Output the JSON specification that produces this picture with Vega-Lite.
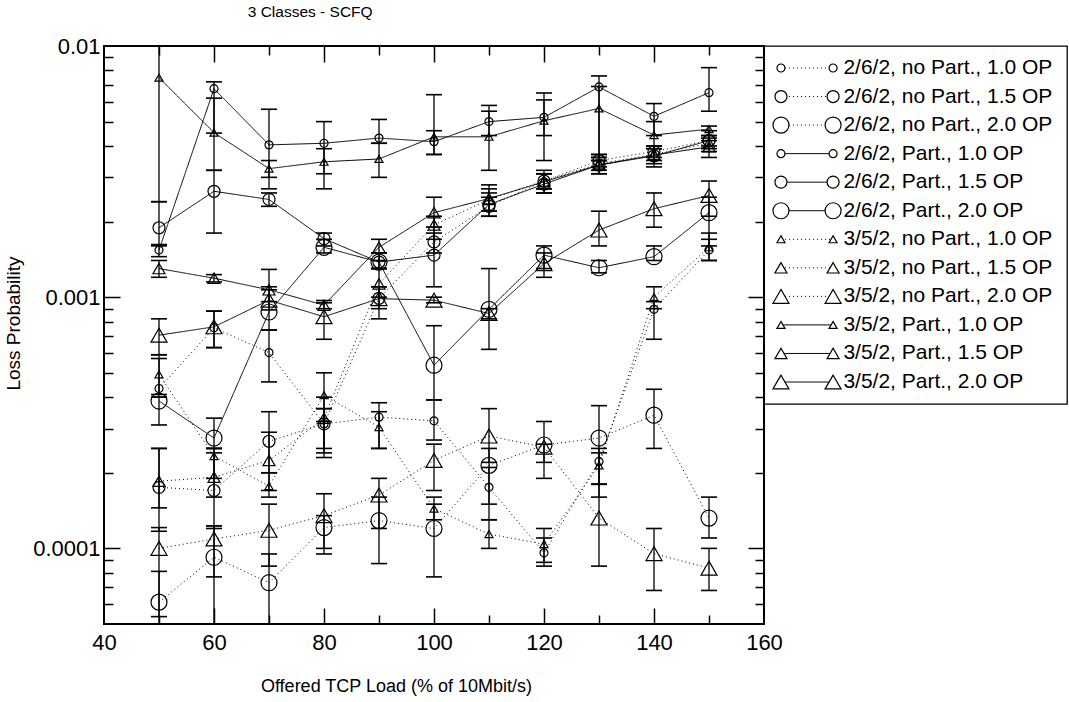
{
  "$schema": "https://vega.github.io/schema/vega-lite/v6.json",
  "background": "white",
  "padding": {"left": 3, "top": 4, "right": 0, "bottom": 0},
  "bounds": "flush",
  "config": {"font": "Liberation Sans", "view": {"stroke": "black"}},
  "title": {"text": "3 Classes - SCFQ", "anchor": "start", "dx": 244, "fontSize": 15.5, "fontWeight": "normal", "color": "black", "offset": 14},
  "spacing": 0,
  "resolve": {"scale": {"size": "independent", "shape": "independent", "strokeDash": "independent"}},
  "datasets": {
    "leg": [
      {"s": "2/6/2, no Part., 1.0 OP"}, {"s": "2/6/2, no Part., 1.5 OP"}, {"s": "2/6/2, no Part., 2.0 OP"},
      {"s": "2/6/2, Part., 1.0 OP"}, {"s": "2/6/2, Part., 1.5 OP"}, {"s": "2/6/2, Part., 2.0 OP"},
      {"s": "3/5/2, no Part., 1.0 OP"}, {"s": "3/5/2, no Part., 1.5 OP"}, {"s": "3/5/2, no Part., 2.0 OP"},
      {"s": "3/5/2, Part., 1.0 OP"}, {"s": "3/5/2, Part., 1.5 OP"}, {"s": "3/5/2, Part., 2.0 OP"}
    ],
    "pts": [
      {"s": "2/6/2, no Part., 1.0 OP", "x": 50, "y": 0.000433, "lo": 0.0004, "hi": 0.00057},
      {"s": "2/6/2, no Part., 1.0 OP", "x": 60, "y": 0.000755, "lo": 0.00063, "hi": 0.00088},
      {"s": "2/6/2, no Part., 1.0 OP", "x": 70, "y": 0.000602, "lo": 0.00046, "hi": 0.00074},
      {"s": "2/6/2, no Part., 1.0 OP", "x": 80, "y": 0.000313, "lo": 0.00023, "hi": 0.0004},
      {"s": "2/6/2, no Part., 1.0 OP", "x": 90, "y": 0.000333, "lo": 0.00025, "hi": 0.00038},
      {"s": "2/6/2, no Part., 1.0 OP", "x": 100, "y": 0.000322, "lo": 0.00027, "hi": 0.00039},
      {"s": "2/6/2, no Part., 1.0 OP", "x": 110, "y": 0.000175, "lo": 0.00013, "hi": 0.00021},
      {"s": "2/6/2, no Part., 1.0 OP", "x": 120, "y": 0.000096, "lo": 0.000085, "hi": 0.00011},
      {"s": "2/6/2, no Part., 1.0 OP", "x": 130, "y": 0.000222, "lo": 0.00018, "hi": 0.00025},
      {"s": "2/6/2, no Part., 1.0 OP", "x": 140, "y": 0.000895, "lo": 0.00068, "hi": 0.00096},
      {"s": "2/6/2, no Part., 1.0 OP", "x": 150, "y": 0.00154, "lo": 0.0014, "hi": 0.0017},

      {"s": "2/6/2, no Part., 1.5 OP", "x": 50, "y": 0.000175, "lo": 0.000117, "hi": 0.00025},
      {"s": "2/6/2, no Part., 1.5 OP", "x": 60, "y": 0.00017, "lo": 0.00012, "hi": 0.00024},
      {"s": "2/6/2, no Part., 1.5 OP", "x": 70, "y": 0.000267, "lo": 0.0002, "hi": 0.00035},
      {"s": "2/6/2, no Part., 1.5 OP", "x": 80, "y": 0.000313, "lo": 0.00025, "hi": 0.00036},
      {"s": "2/6/2, no Part., 1.5 OP", "x": 90, "y": 0.00099, "lo": 0.0009, "hi": 0.0011},
      {"s": "2/6/2, no Part., 1.5 OP", "x": 100, "y": 0.00166, "lo": 0.0015, "hi": 0.0019},
      {"s": "2/6/2, no Part., 1.5 OP", "x": 110, "y": 0.0023, "lo": 0.0021, "hi": 0.0025},
      {"s": "2/6/2, no Part., 1.5 OP", "x": 120, "y": 0.0029, "lo": 0.0027, "hi": 0.0031},
      {"s": "2/6/2, no Part., 1.5 OP", "x": 130, "y": 0.0035, "lo": 0.0033, "hi": 0.0037},
      {"s": "2/6/2, no Part., 1.5 OP", "x": 140, "y": 0.0038, "lo": 0.0036, "hi": 0.004},
      {"s": "2/6/2, no Part., 1.5 OP", "x": 150, "y": 0.0042, "lo": 0.004, "hi": 0.0044},

      {"s": "2/6/2, no Part., 2.0 OP", "x": 50, "y": 0.0000611, "lo": 0.00004, "hi": 0.000081},
      {"s": "2/6/2, no Part., 2.0 OP", "x": 60, "y": 0.0000922, "lo": 0.00004, "hi": 0.000123},
      {"s": "2/6/2, no Part., 2.0 OP", "x": 70, "y": 0.000073, "lo": 0.00004, "hi": 0.000095},
      {"s": "2/6/2, no Part., 2.0 OP", "x": 80, "y": 0.000121, "lo": 0.000095, "hi": 0.000135},
      {"s": "2/6/2, no Part., 2.0 OP", "x": 90, "y": 0.000129, "lo": 0.000087, "hi": 0.00016},
      {"s": "2/6/2, no Part., 2.0 OP", "x": 100, "y": 0.00012, "lo": 0.000077, "hi": 0.00015},
      {"s": "2/6/2, no Part., 2.0 OP", "x": 110, "y": 0.000214, "lo": 0.00015, "hi": 0.00025},
      {"s": "2/6/2, no Part., 2.0 OP", "x": 120, "y": 0.000258, "lo": 0.00019, "hi": 0.00032},
      {"s": "2/6/2, no Part., 2.0 OP", "x": 130, "y": 0.000275, "lo": 0.00016, "hi": 0.00037},
      {"s": "2/6/2, no Part., 2.0 OP", "x": 140, "y": 0.000339, "lo": 0.00025, "hi": 0.00043},
      {"s": "2/6/2, no Part., 2.0 OP", "x": 150, "y": 0.000132, "lo": 0.00011, "hi": 0.00016},

      {"s": "2/6/2, Part., 1.0 OP", "x": 50, "y": 0.00154, "lo": 0.00145, "hi": 0.00162},
      {"s": "2/6/2, Part., 1.0 OP", "x": 60, "y": 0.00676, "lo": 0.0045, "hi": 0.0072},
      {"s": "2/6/2, Part., 1.0 OP", "x": 70, "y": 0.00404, "lo": 0.0027, "hi": 0.0056},
      {"s": "2/6/2, Part., 1.0 OP", "x": 80, "y": 0.0041, "lo": 0.0027, "hi": 0.005},
      {"s": "2/6/2, Part., 1.0 OP", "x": 90, "y": 0.0043, "lo": 0.0041, "hi": 0.0051},
      {"s": "2/6/2, Part., 1.0 OP", "x": 100, "y": 0.00416, "lo": 0.0037, "hi": 0.0064},
      {"s": "2/6/2, Part., 1.0 OP", "x": 110, "y": 0.005, "lo": 0.0044, "hi": 0.0058},
      {"s": "2/6/2, Part., 1.0 OP", "x": 120, "y": 0.0052, "lo": 0.0035, "hi": 0.0065},
      {"s": "2/6/2, Part., 1.0 OP", "x": 130, "y": 0.00687, "lo": 0.0035, "hi": 0.0076},
      {"s": "2/6/2, Part., 1.0 OP", "x": 140, "y": 0.00525, "lo": 0.0044, "hi": 0.0059},
      {"s": "2/6/2, Part., 1.0 OP", "x": 150, "y": 0.00652, "lo": 0.0055, "hi": 0.0082},

      {"s": "2/6/2, Part., 1.5 OP", "x": 50, "y": 0.00189, "lo": 0.0016, "hi": 0.0024},
      {"s": "2/6/2, Part., 1.5 OP", "x": 60, "y": 0.00264, "lo": 0.0018, "hi": 0.0032},
      {"s": "2/6/2, Part., 1.5 OP", "x": 70, "y": 0.00245, "lo": 0.0023, "hi": 0.0026},
      {"s": "2/6/2, Part., 1.5 OP", "x": 80, "y": 0.00171, "lo": 0.0016, "hi": 0.0018},
      {"s": "2/6/2, Part., 1.5 OP", "x": 90, "y": 0.00138, "lo": 0.0013, "hi": 0.0015},
      {"s": "2/6/2, Part., 1.5 OP", "x": 100, "y": 0.00147, "lo": 0.0011, "hi": 0.0018},
      {"s": "2/6/2, Part., 1.5 OP", "x": 110, "y": 0.00234, "lo": 0.0021, "hi": 0.0026},
      {"s": "2/6/2, Part., 1.5 OP", "x": 120, "y": 0.00282, "lo": 0.0026, "hi": 0.0031},
      {"s": "2/6/2, Part., 1.5 OP", "x": 130, "y": 0.00336, "lo": 0.0031, "hi": 0.0037},
      {"s": "2/6/2, Part., 1.5 OP", "x": 140, "y": 0.00365, "lo": 0.0033, "hi": 0.004},
      {"s": "2/6/2, Part., 1.5 OP", "x": 150, "y": 0.0042, "lo": 0.0038, "hi": 0.0046},

      {"s": "2/6/2, Part., 2.0 OP", "x": 50, "y": 0.000386, "lo": 0.00031, "hi": 0.0004},
      {"s": "2/6/2, Part., 2.0 OP", "x": 60, "y": 0.000275, "lo": 0.00025, "hi": 0.00033},
      {"s": "2/6/2, Part., 2.0 OP", "x": 70, "y": 0.000873, "lo": 0.00074, "hi": 0.00107},
      {"s": "2/6/2, Part., 2.0 OP", "x": 80, "y": 0.00158, "lo": 0.0015, "hi": 0.0017},
      {"s": "2/6/2, Part., 2.0 OP", "x": 90, "y": 0.00138, "lo": 0.0013, "hi": 0.0015},
      {"s": "2/6/2, Part., 2.0 OP", "x": 100, "y": 0.000536, "lo": 0.00039, "hi": 0.00077},
      {"s": "2/6/2, Part., 2.0 OP", "x": 110, "y": 0.000895, "lo": 0.00062, "hi": 0.0013},
      {"s": "2/6/2, Part., 2.0 OP", "x": 120, "y": 0.00147, "lo": 0.0013, "hi": 0.0016},
      {"s": "2/6/2, Part., 2.0 OP", "x": 130, "y": 0.00131, "lo": 0.00125, "hi": 0.0014},
      {"s": "2/6/2, Part., 2.0 OP", "x": 140, "y": 0.00145, "lo": 0.0014, "hi": 0.0016},
      {"s": "2/6/2, Part., 2.0 OP", "x": 150, "y": 0.00217, "lo": 0.0016, "hi": 0.0025},

      {"s": "3/5/2, no Part., 1.0 OP", "x": 50, "y": 0.000493, "lo": 0.00041, "hi": 0.00059},
      {"s": "3/5/2, no Part., 1.0 OP", "x": 60, "y": 0.000233, "lo": 0.00019, "hi": 0.00025},
      {"s": "3/5/2, no Part., 1.0 OP", "x": 70, "y": 0.000177, "lo": 0.00016, "hi": 0.0002},
      {"s": "3/5/2, no Part., 1.0 OP", "x": 80, "y": 0.000407, "lo": 0.00032, "hi": 0.0005},
      {"s": "3/5/2, no Part., 1.0 OP", "x": 90, "y": 0.000304, "lo": 0.00025, "hi": 0.00035},
      {"s": "3/5/2, no Part., 1.0 OP", "x": 100, "y": 0.000144, "lo": 0.00013, "hi": 0.00016},
      {"s": "3/5/2, no Part., 1.0 OP", "x": 110, "y": 0.000114, "lo": 0.0001, "hi": 0.00013},
      {"s": "3/5/2, no Part., 1.0 OP", "x": 120, "y": 0.000104, "lo": 0.000088, "hi": 0.00012},
      {"s": "3/5/2, no Part., 1.0 OP", "x": 130, "y": 0.000214, "lo": 0.00018, "hi": 0.00024},
      {"s": "3/5/2, no Part., 1.0 OP", "x": 140, "y": 0.001, "lo": 0.0009, "hi": 0.0011},
      {"s": "3/5/2, no Part., 1.0 OP", "x": 150, "y": 0.00158, "lo": 0.0014, "hi": 0.0018},

      {"s": "3/5/2, no Part., 1.5 OP", "x": 50, "y": 0.000185, "lo": 0.000145, "hi": 0.00025},
      {"s": "3/5/2, no Part., 1.5 OP", "x": 60, "y": 0.000192, "lo": 0.00016, "hi": 0.00025},
      {"s": "3/5/2, no Part., 1.5 OP", "x": 70, "y": 0.000224, "lo": 0.00017, "hi": 0.00029},
      {"s": "3/5/2, no Part., 1.5 OP", "x": 80, "y": 0.00033, "lo": 0.00024, "hi": 0.00036},
      {"s": "3/5/2, no Part., 1.5 OP", "x": 90, "y": 0.00113, "lo": 0.001, "hi": 0.0013},
      {"s": "3/5/2, no Part., 1.5 OP", "x": 100, "y": 0.00194, "lo": 0.0017, "hi": 0.0021},
      {"s": "3/5/2, no Part., 1.5 OP", "x": 110, "y": 0.00245, "lo": 0.0022, "hi": 0.0027},
      {"s": "3/5/2, no Part., 1.5 OP", "x": 120, "y": 0.0029, "lo": 0.0027, "hi": 0.0031},
      {"s": "3/5/2, no Part., 1.5 OP", "x": 130, "y": 0.0034, "lo": 0.0032, "hi": 0.0036},
      {"s": "3/5/2, no Part., 1.5 OP", "x": 140, "y": 0.0037, "lo": 0.0035, "hi": 0.0039},
      {"s": "3/5/2, no Part., 1.5 OP", "x": 150, "y": 0.0041, "lo": 0.0039, "hi": 0.0043},

      {"s": "3/5/2, no Part., 2.0 OP", "x": 50, "y": 0.0001, "lo": 0.0000535, "hi": 0.000121},
      {"s": "3/5/2, no Part., 2.0 OP", "x": 60, "y": 0.000109, "lo": 0.000077, "hi": 0.000123},
      {"s": "3/5/2, no Part., 2.0 OP", "x": 70, "y": 0.000118, "lo": 0.000085, "hi": 0.00015},
      {"s": "3/5/2, no Part., 2.0 OP", "x": 80, "y": 0.000135, "lo": 0.0001, "hi": 0.000165},
      {"s": "3/5/2, no Part., 2.0 OP", "x": 90, "y": 0.000163, "lo": 0.00012, "hi": 0.00019},
      {"s": "3/5/2, no Part., 2.0 OP", "x": 100, "y": 0.000224, "lo": 0.00017, "hi": 0.00026},
      {"s": "3/5/2, no Part., 2.0 OP", "x": 110, "y": 0.00028, "lo": 0.00022, "hi": 0.00036},
      {"s": "3/5/2, no Part., 2.0 OP", "x": 120, "y": 0.000253, "lo": 0.00022, "hi": 0.00026},
      {"s": "3/5/2, no Part., 2.0 OP", "x": 130, "y": 0.000132, "lo": 0.000085, "hi": 0.00018},
      {"s": "3/5/2, no Part., 2.0 OP", "x": 140, "y": 0.0000953, "lo": 0.000068, "hi": 0.00012},
      {"s": "3/5/2, no Part., 2.0 OP", "x": 150, "y": 0.0000834, "lo": 0.000068, "hi": 0.0001},

      {"s": "3/5/2, Part., 1.0 OP", "x": 50, "y": 0.00748, "lo": 0.0024, "hi": 0.012},
      {"s": "3/5/2, Part., 1.0 OP", "x": 60, "y": 0.00452, "lo": 0.0032, "hi": 0.0062},
      {"s": "3/5/2, Part., 1.0 OP", "x": 70, "y": 0.00325, "lo": 0.003, "hi": 0.0035},
      {"s": "3/5/2, Part., 1.0 OP", "x": 80, "y": 0.00346, "lo": 0.0031, "hi": 0.0039},
      {"s": "3/5/2, Part., 1.0 OP", "x": 90, "y": 0.00355, "lo": 0.003, "hi": 0.0041},
      {"s": "3/5/2, Part., 1.0 OP", "x": 100, "y": 0.00435, "lo": 0.0037, "hi": 0.0046},
      {"s": "3/5/2, Part., 1.0 OP", "x": 110, "y": 0.00435, "lo": 0.0032, "hi": 0.0055},
      {"s": "3/5/2, Part., 1.0 OP", "x": 120, "y": 0.00504, "lo": 0.0044, "hi": 0.0061},
      {"s": "3/5/2, Part., 1.0 OP", "x": 130, "y": 0.00564, "lo": 0.0035, "hi": 0.0069},
      {"s": "3/5/2, Part., 1.0 OP", "x": 140, "y": 0.00442, "lo": 0.0039, "hi": 0.005},
      {"s": "3/5/2, Part., 1.0 OP", "x": 150, "y": 0.00467, "lo": 0.0042, "hi": 0.0048},

      {"s": "3/5/2, Part., 1.5 OP", "x": 50, "y": 0.0013, "lo": 0.0012, "hi": 0.0014},
      {"s": "3/5/2, Part., 1.5 OP", "x": 60, "y": 0.00119, "lo": 0.00115, "hi": 0.00123},
      {"s": "3/5/2, Part., 1.5 OP", "x": 70, "y": 0.00107, "lo": 0.00096, "hi": 0.00129},
      {"s": "3/5/2, Part., 1.5 OP", "x": 80, "y": 0.00093, "lo": 0.0009, "hi": 0.00097},
      {"s": "3/5/2, Part., 1.5 OP", "x": 90, "y": 0.00158, "lo": 0.0014, "hi": 0.0017},
      {"s": "3/5/2, Part., 1.5 OP", "x": 100, "y": 0.00217, "lo": 0.0019, "hi": 0.0025},
      {"s": "3/5/2, Part., 1.5 OP", "x": 110, "y": 0.00247, "lo": 0.0022, "hi": 0.0028},
      {"s": "3/5/2, Part., 1.5 OP", "x": 120, "y": 0.00288, "lo": 0.0026, "hi": 0.0032},
      {"s": "3/5/2, Part., 1.5 OP", "x": 130, "y": 0.00336, "lo": 0.0031, "hi": 0.0036},
      {"s": "3/5/2, Part., 1.5 OP", "x": 140, "y": 0.00368, "lo": 0.0034, "hi": 0.004},
      {"s": "3/5/2, Part., 1.5 OP", "x": 150, "y": 0.00397, "lo": 0.0036, "hi": 0.0044},

      {"s": "3/5/2, Part., 2.0 OP", "x": 50, "y": 0.000706, "lo": 0.00059, "hi": 0.00082},
      {"s": "3/5/2, Part., 2.0 OP", "x": 60, "y": 0.000762, "lo": 0.00063, "hi": 0.00088},
      {"s": "3/5/2, Part., 2.0 OP", "x": 70, "y": 0.000973, "lo": 0.00089, "hi": 0.0011},
      {"s": "3/5/2, Part., 2.0 OP", "x": 80, "y": 0.000836, "lo": 0.00068, "hi": 0.00095},
      {"s": "3/5/2, Part., 2.0 OP", "x": 90, "y": 0.000987, "lo": 0.00082, "hi": 0.0011},
      {"s": "3/5/2, Part., 2.0 OP", "x": 100, "y": 0.000973, "lo": 0.00095, "hi": 0.001},
      {"s": "3/5/2, Part., 2.0 OP", "x": 110, "y": 0.000861, "lo": 0.00082, "hi": 0.0009},
      {"s": "3/5/2, Part., 2.0 OP", "x": 120, "y": 0.00136, "lo": 0.0012, "hi": 0.0015},
      {"s": "3/5/2, Part., 2.0 OP", "x": 130, "y": 0.00185, "lo": 0.0016, "hi": 0.0022},
      {"s": "3/5/2, Part., 2.0 OP", "x": 140, "y": 0.00225, "lo": 0.0019, "hi": 0.0026},
      {"s": "3/5/2, Part., 2.0 OP", "x": 150, "y": 0.00254, "lo": 0.0021, "hi": 0.0029}
    ]
  },
  "hconcat": [
    {
      "width": 660,
      "height": 578,
      "data": {"name": "pts"},
      "view": {"stroke": "black", "strokeWidth": 2},
      "resolve": {"axis": {"x": "independent", "y": "independent"}},
      "layer": [
        {
          "mark": {"type": "line", "color": "black", "strokeWidth": 1, "clip": true},
          "encoding": {
            "x": {"field": "x", "type": "quantitative", "scale": {"domain": [40, 160], "nice": false, "zero": false},
              "axis": {"orient": "bottom", "values": [40, 60, 80, 100, 120, 140, 160], "ticks": false, "tickSize": 0, "domain": false, "grid": false,
                "labelFontSize": 22, "labelPadding": 8, "labelColor": "black", "labelFlush": false,
                "title": "Offered TCP Load (% of 10Mbit/s)", "titleFontSize": 18, "titleFontWeight": "normal", "titleColor": "black", "titlePadding": 24, "titleX": 292}},
            "y": {"field": "y", "type": "quantitative", "scale": {"type": "log", "domain": [0.00005, 0.01], "nice": false},
              "axis": {"orient": "left", "values": [0.0001, 0.001, 0.01], "ticks": false, "tickSize": 0, "domain": false, "grid": false, "format": "~g",
                "labelFontSize": 22, "labelPadding": 4, "labelColor": "black", "labelFlush": false,
                "title": "Loss Probability", "titleFontSize": 19, "titleFontWeight": "normal", "titleColor": "black", "titlePadding": 9, "titleY": 277}},
            "detail": {"field": "s"},
            "strokeDash": {"field": "s", "type": "nominal", "legend": null,
              "scale": {"domain": ["2/6/2, no Part., 1.0 OP", "2/6/2, no Part., 1.5 OP", "2/6/2, no Part., 2.0 OP", "2/6/2, Part., 1.0 OP", "2/6/2, Part., 1.5 OP", "2/6/2, Part., 2.0 OP", "3/5/2, no Part., 1.0 OP", "3/5/2, no Part., 1.5 OP", "3/5/2, no Part., 2.0 OP", "3/5/2, Part., 1.0 OP", "3/5/2, Part., 1.5 OP", "3/5/2, Part., 2.0 OP"],
                "range": [[1, 3], [1, 3], [1, 3], [1, 0], [1, 0], [1, 0], [1, 3], [1, 3], [1, 3], [1, 0], [1, 0], [1, 0]]}}
          }
        },
        {
          "mark": {"type": "rule", "color": "black", "strokeWidth": 1.3, "clip": true},
          "encoding": {
            "x": {"field": "x", "type": "quantitative",
              "axis": {"orient": "bottom", "values": [60, 80, 100, 120, 140], "labels": false, "tickSize": -16, "tickWidth": 1.5, "tickColor": "black", "domain": false, "grid": false, "title": null}},
            "y": {"field": "lo", "type": "quantitative",
              "axis": {"orient": "left", "values": [0.0001, 0.001], "labels": false, "tickSize": -16, "tickWidth": 1.5, "tickColor": "black", "domain": false, "grid": false, "title": null}},
            "y2": {"field": "hi"}
          }
        },
        {
          "transform": [{"fold": ["lo", "hi"], "as": ["k", "v"]}],
          "mark": {"type": "tick", "orient": "horizontal", "color": "black", "size": 16, "thickness": 1.6, "opacity": 1, "clip": true},
          "encoding": {
            "x": {"field": "x", "type": "quantitative",
              "axis": {"orient": "bottom", "values": [50, 70, 90, 110, 130, 150], "labels": false, "tickSize": -9, "tickWidth": 1.5, "tickColor": "black", "domain": false, "grid": false, "title": null}},
            "y": {"field": "v", "type": "quantitative",
              "axis": {"orient": "left", "values": [0.00006, 0.00007, 0.00008, 0.00009, 0.0002, 0.0003, 0.0004, 0.0005, 0.0006, 0.0007, 0.0008, 0.0009, 0.002, 0.003, 0.004, 0.005, 0.006, 0.007, 0.008, 0.009], "labels": false, "tickSize": -9, "tickWidth": 1.5, "tickColor": "black", "domain": false, "grid": false, "title": null}}
          }
        },
        {
          "mark": {"type": "point", "filled": false, "color": "black", "strokeWidth": 1.2, "opacity": 1, "clip": true},
          "encoding": {
            "x": {"field": "x", "type": "quantitative",
              "axis": {"orient": "top", "values": [60, 80, 100, 120, 140], "labels": false, "tickSize": -16, "tickWidth": 1.5, "tickColor": "black", "domain": false, "grid": false, "title": null}},
            "y": {"field": "y", "type": "quantitative",
              "axis": {"orient": "right", "values": [0.0001, 0.001], "labels": false, "tickSize": -16, "tickWidth": 1.5, "tickColor": "black", "domain": false, "grid": false, "title": null}},
            "shape": {"field": "s", "type": "nominal", "legend": null,
              "scale": {"domain": ["2/6/2, no Part., 1.0 OP", "2/6/2, no Part., 1.5 OP", "2/6/2, no Part., 2.0 OP", "2/6/2, Part., 1.0 OP", "2/6/2, Part., 1.5 OP", "2/6/2, Part., 2.0 OP", "3/5/2, no Part., 1.0 OP", "3/5/2, no Part., 1.5 OP", "3/5/2, no Part., 2.0 OP", "3/5/2, Part., 1.0 OP", "3/5/2, Part., 1.5 OP", "3/5/2, Part., 2.0 OP"],
                "range": ["circle", "circle", "circle", "circle", "circle", "circle", "triangle-up", "triangle-up", "triangle-up", "triangle-up", "triangle-up", "triangle-up"]}},
            "size": {"field": "s", "type": "ordinal", "legend": null,
              "scale": {"type": "ordinal", "domain": ["2/6/2, no Part., 1.0 OP", "2/6/2, no Part., 1.5 OP", "2/6/2, no Part., 2.0 OP", "2/6/2, Part., 1.0 OP", "2/6/2, Part., 1.5 OP", "2/6/2, Part., 2.0 OP", "3/5/2, no Part., 1.0 OP", "3/5/2, no Part., 1.5 OP", "3/5/2, no Part., 2.0 OP", "3/5/2, Part., 1.0 OP", "3/5/2, Part., 1.5 OP", "3/5/2, Part., 2.0 OP"],
                "range": [64, 144, 256, 64, 144, 256, 64, 144, 256, 64, 144, 256]}}
          }
        },
        {
          "mark": {"type": "point", "opacity": 0},
          "encoding": {
            "x": {"field": "x", "type": "quantitative",
              "axis": {"orient": "top", "values": [50, 70, 90, 110, 130, 150], "labels": false, "tickSize": -9, "tickWidth": 1.5, "tickColor": "black", "domain": false, "grid": false, "title": null}},
            "y": {"field": "y", "type": "quantitative",
              "axis": {"orient": "right", "values": [0.00006, 0.00007, 0.00008, 0.00009, 0.0002, 0.0003, 0.0004, 0.0005, 0.0006, 0.0007, 0.0008, 0.0009, 0.002, 0.003, 0.004, 0.005, 0.006, 0.007, 0.008, 0.009], "labels": false, "tickSize": -9, "tickWidth": 1.5, "tickColor": "black", "domain": false, "grid": false, "title": null}}
          }
        }
      ]
    },
    {
      "width": 303,
      "height": 358,
      "data": {"name": "leg"},
      "view": {"stroke": "black", "strokeWidth": 1.3},
      "encoding": {
        "y": {"field": "s", "type": "nominal", "axis": null,
          "scale": {"type": "point", "padding": 0.77, "domain": ["2/6/2, no Part., 1.0 OP", "2/6/2, no Part., 1.5 OP", "2/6/2, no Part., 2.0 OP", "2/6/2, Part., 1.0 OP", "2/6/2, Part., 1.5 OP", "2/6/2, Part., 2.0 OP", "3/5/2, no Part., 1.0 OP", "3/5/2, no Part., 1.5 OP", "3/5/2, no Part., 2.0 OP", "3/5/2, Part., 1.0 OP", "3/5/2, Part., 1.5 OP", "3/5/2, Part., 2.0 OP"]}}
      },
      "layer": [
        {
          "mark": {"type": "rule", "color": "black", "strokeWidth": 1},
          "encoding": {
            "x": {"datum": 0.056, "type": "quantitative", "scale": {"domain": [0, 1], "nice": false}, "axis": null},
            "x2": {"datum": 0.228},
            "strokeDash": {"field": "s", "type": "nominal", "legend": null,
              "scale": {"domain": ["2/6/2, no Part., 1.0 OP", "2/6/2, no Part., 1.5 OP", "2/6/2, no Part., 2.0 OP", "2/6/2, Part., 1.0 OP", "2/6/2, Part., 1.5 OP", "2/6/2, Part., 2.0 OP", "3/5/2, no Part., 1.0 OP", "3/5/2, no Part., 1.5 OP", "3/5/2, no Part., 2.0 OP", "3/5/2, Part., 1.0 OP", "3/5/2, Part., 1.5 OP", "3/5/2, Part., 2.0 OP"],
                "range": [[1, 3], [1, 3], [1, 3], [1, 0], [1, 0], [1, 0], [1, 3], [1, 3], [1, 3], [1, 0], [1, 0], [1, 0]]}}
          }
        },
        {
          "mark": {"type": "point", "filled": false, "fill": "white", "color": "black", "strokeWidth": 1.2, "opacity": 1},
          "encoding": {
            "x": {"datum": 0.056, "type": "quantitative"},
            "shape": {"field": "s", "type": "nominal", "legend": null,
              "scale": {"domain": ["2/6/2, no Part., 1.0 OP", "2/6/2, no Part., 1.5 OP", "2/6/2, no Part., 2.0 OP", "2/6/2, Part., 1.0 OP", "2/6/2, Part., 1.5 OP", "2/6/2, Part., 2.0 OP", "3/5/2, no Part., 1.0 OP", "3/5/2, no Part., 1.5 OP", "3/5/2, no Part., 2.0 OP", "3/5/2, Part., 1.0 OP", "3/5/2, Part., 1.5 OP", "3/5/2, Part., 2.0 OP"],
                "range": ["circle", "circle", "circle", "circle", "circle", "circle", "triangle-up", "triangle-up", "triangle-up", "triangle-up", "triangle-up", "triangle-up"]}},
            "size": {"field": "s", "type": "ordinal", "legend": null,
              "scale": {"type": "ordinal", "domain": ["2/6/2, no Part., 1.0 OP", "2/6/2, no Part., 1.5 OP", "2/6/2, no Part., 2.0 OP", "2/6/2, Part., 1.0 OP", "2/6/2, Part., 1.5 OP", "2/6/2, Part., 2.0 OP", "3/5/2, no Part., 1.0 OP", "3/5/2, no Part., 1.5 OP", "3/5/2, no Part., 2.0 OP", "3/5/2, Part., 1.0 OP", "3/5/2, Part., 1.5 OP", "3/5/2, Part., 2.0 OP"],
                "range": [64, 144, 256, 64, 144, 256, 64, 144, 256, 64, 144, 256]}}
          }
        },
        {
          "mark": {"type": "point", "filled": false, "fill": "white", "color": "black", "strokeWidth": 1.2, "opacity": 1},
          "encoding": {
            "x": {"datum": 0.228, "type": "quantitative"},
            "shape": {"field": "s", "type": "nominal", "legend": null,
              "scale": {"domain": ["2/6/2, no Part., 1.0 OP", "2/6/2, no Part., 1.5 OP", "2/6/2, no Part., 2.0 OP", "2/6/2, Part., 1.0 OP", "2/6/2, Part., 1.5 OP", "2/6/2, Part., 2.0 OP", "3/5/2, no Part., 1.0 OP", "3/5/2, no Part., 1.5 OP", "3/5/2, no Part., 2.0 OP", "3/5/2, Part., 1.0 OP", "3/5/2, Part., 1.5 OP", "3/5/2, Part., 2.0 OP"],
                "range": ["circle", "circle", "circle", "circle", "circle", "circle", "triangle-up", "triangle-up", "triangle-up", "triangle-up", "triangle-up", "triangle-up"]}},
            "size": {"field": "s", "type": "ordinal", "legend": null,
              "scale": {"type": "ordinal", "domain": ["2/6/2, no Part., 1.0 OP", "2/6/2, no Part., 1.5 OP", "2/6/2, no Part., 2.0 OP", "2/6/2, Part., 1.0 OP", "2/6/2, Part., 1.5 OP", "2/6/2, Part., 2.0 OP", "3/5/2, no Part., 1.0 OP", "3/5/2, no Part., 1.5 OP", "3/5/2, no Part., 2.0 OP", "3/5/2, Part., 1.0 OP", "3/5/2, Part., 1.5 OP", "3/5/2, Part., 2.0 OP"],
                "range": [64, 144, 256, 64, 144, 256, 64, 144, 256, 64, 144, 256]}}
          }
        },
        {
          "mark": {"type": "text", "align": "left", "baseline": "middle", "fontSize": 21, "color": "black"},
          "encoding": {
            "x": {"datum": 0.262, "type": "quantitative"},
            "text": {"field": "s"}
          }
        }
      ]
    }
  ]
}
